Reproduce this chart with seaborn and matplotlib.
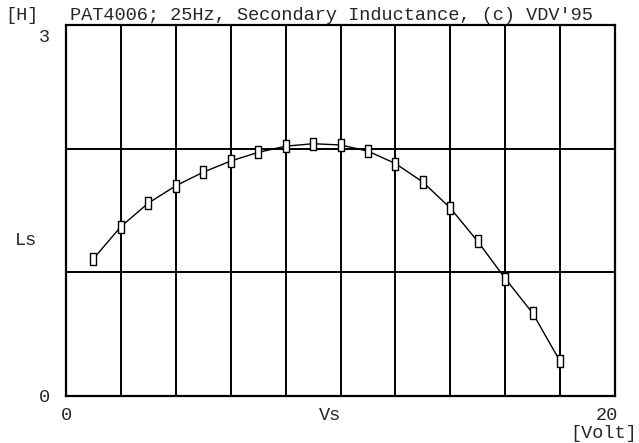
import matplotlib
matplotlib.use("Agg")
import matplotlib.pyplot as plt
import seaborn as sns
import pandas as pd
import numpy as np
from matplotlib.path import Path

vs = [1, 2, 3, 4, 5, 6, 7, 8, 9, 10, 11, 12, 13, 14, 15, 16, 17, 18]
ls = [1.11, 1.37, 1.56, 1.70, 1.81, 1.90, 1.97, 2.02, 2.04, 2.03, 1.98, 1.88,
      1.73, 1.52, 1.25, 0.95, 0.67, 0.28]
title = "PAT4006; 25Hz, Secondary Inductance, (c) VDV'95"

df = pd.DataFrame({"Vs": vs, "Ls": ls})

sns.set_style("white")
plt.rcParams['font.family'] = ['Liberation Mono', 'DejaVu Sans Mono']

fig = plt.figure(figsize=(6.39, 4.43), dpi=100)
ax = fig.add_axes([66/639, 1-396/443, (615-66)/639, (396-25)/443])

rect = Path([(-0.5, -1), (0.5, -1), (0.5, 1), (-0.5, 1), (-0.5, -1)],
            [Path.MOVETO, Path.LINETO, Path.LINETO, Path.LINETO, Path.CLOSEPOLY])

sns.lineplot(data=df, x="Vs", y="Ls", ax=ax, color="black", linewidth=1.0,
             marker=rect, markersize=8, markerfacecolor="white",
             markeredgecolor="black", markeredgewidth=1.0, zorder=3)

ax.set_xlim(0, 20)
ax.set_ylim(0, 3)
ax.set_xticks(np.arange(0, 21, 2))
ax.set_yticks([0, 1, 2, 3])
ax.grid(True, color="black", linewidth=1.4)
ax.tick_params(length=0, labelbottom=False, labelleft=False)
for s in ax.spines.values():
    s.set_color("black")
    s.set_linewidth(1.6)
ax.set_xlabel("")
ax.set_ylabel("")

fs = 13.4
fig.text(5/639, 1-20/443, "[H]", fontsize=fs, va="baseline", ha="left")
fig.text(70/639, 1-20/443, title, fontsize=fs, va="baseline", ha="left")
fig.text(44/639, 1-37/443, "3", fontsize=fs, va="center", ha="center")
fig.text(44/639, 1-397/443, "0", fontsize=fs, va="center", ha="center")
fig.text(26/639, 1-240/443, "Ls", fontsize=fs, va="center", ha="center")
fig.text(66/639, 1-415/443, "0", fontsize=fs, va="center", ha="center")
fig.text(330/639, 1-415/443, "Vs", fontsize=fs, va="center", ha="center")
fig.text(618/639, 1-415/443, "20", fontsize=fs, va="center", ha="right")
fig.text(637/639, 1-433/443, "[Volt]", fontsize=fs, va="center", ha="right")

fig.savefig("out.png", dpi=100)
